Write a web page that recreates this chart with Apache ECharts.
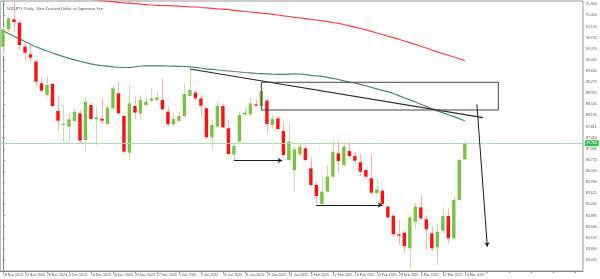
<!DOCTYPE html>
<html><head><meta charset="utf-8">
<style>html,body{margin:0;padding:0;background:#fff}#c{width:600px;height:279px}</style>
<script src="https://cdn.jsdelivr.net/npm/echarts@6/dist/echarts.min.js"></script>
</head><body><div id="c"></div>
<script>
const dates = ['18 Nov 2024','19 Nov 2024','20 Nov 2024','21 Nov 2024','22 Nov 2024','25 Nov 2024','26 Nov 2024','27 Nov 2024','28 Nov 2024','29 Nov 2024',
'2 Dec 2024','3 Dec 2024','4 Dec 2024','5 Dec 2024','6 Dec 2024','9 Dec 2024','10 Dec 2024','11 Dec 2024','12 Dec 2024','13 Dec 2024',
'16 Dec 2024','17 Dec 2024','18 Dec 2024','19 Dec 2024','20 Dec 2024','23 Dec 2024','24 Dec 2024','26 Dec 2024','27 Dec 2024','30 Dec 2024',
'31 Dec 2024','2 Jan 2025','3 Jan 2025','6 Jan 2025','7 Jan 2025','8 Jan 2025','9 Jan 2025','10 Jan 2025','13 Jan 2025','14 Jan 2025',
'15 Jan 2025','16 Jan 2025','17 Jan 2025','20 Jan 2025','21 Jan 2025','22 Jan 2025','23 Jan 2025','24 Jan 2025','27 Jan 2025','28 Jan 2025',
'29 Jan 2025','30 Jan 2025','31 Jan 2025','3 Feb 2025','4 Feb 2025','5 Feb 2025','6 Feb 2025','7 Feb 2025','10 Feb 2025','11 Feb 2025',
'12 Feb 2025','13 Feb 2025','14 Feb 2025','17 Feb 2025','18 Feb 2025','19 Feb 2025','20 Feb 2025','21 Feb 2025','24 Feb 2025','25 Feb 2025',
'26 Feb 2025','27 Feb 2025','28 Feb 2025','3 Mar 2025','4 Mar 2025','5 Mar 2025','6 Mar 2025','7 Mar 2025','10 Mar 2025','11 Mar 2025',
'12 Mar 2025','13 Mar 2025','14 Mar 2025','17 Mar 2025','18 Mar 2025'];
const emptySlots = ['','','','','','','','','','','','','','','','','','','','',''];

const opens = [
90.439,91.008,91.336,91.227,90.439,90.188,89.947,89.236,88.853,89.214,
88.328,87.868,87.813,87.999,88.251,87.376,88.525,88.054,88.076,87.901,
88.415,88.908,88.164,86.960,88.492,88.251,88.525,88.667,88.689,88.689,
88.306,87.890,87.999,88.164,88.820,88.929,88.743,88.415,87.463,87.813,
88.492,87.759,86.905,87.321,88.218,88.218,88.546,88.492,88.667,87.868,
88.087,87.671,86.719,86.391,86.905,87.102,86.446,85.899,85.275,85.680,
86.172,86.938,86.555,87.015,86.851,86.643,86.391,86.118,85.625,85.713,
85.188,84.892,84.280,84.334,83.820,84.695,85.166,84.772,84.312,83.853,
84.400,84.881,84.148,85.406,86.741];
const closes = [
91.008,91.369,91.249,90.494,90.242,90.078,89.291,88.995,89.181,88.492,
88.010,87.912,88.054,88.306,87.354,88.634,88.065,88.120,88.010,88.437,
89.072,88.251,86.993,88.579,88.273,88.689,88.634,88.743,88.776,88.382,
87.890,88.065,88.164,88.886,89.017,88.743,88.503,87.463,87.868,88.492,
87.792,86.916,87.179,88.196,88.273,88.579,88.503,88.984,87.901,88.065,
87.737,86.883,87.321,87.069,87.157,86.719,85.899,85.538,85.680,86.172,
86.993,86.687,87.157,86.851,86.697,86.336,86.172,85.647,85.757,85.275,
84.838,84.280,84.236,83.897,84.838,85.188,84.805,84.444,83.820,84.367,
84.881,84.148,85.406,86.719,87.266];
const highs = [
91.096,91.479,91.990,91.271,90.571,90.494,90.002,89.455,89.476,89.258,
88.798,88.525,88.251,88.415,88.361,88.798,88.601,88.492,88.711,88.492,
89.181,89.291,88.196,89.181,88.798,88.853,88.798,89.072,88.962,89.400,
88.470,88.273,88.306,89.236,89.706,89.017,88.886,88.470,88.032,88.634,
88.557,88.054,87.266,88.306,88.415,88.765,88.711,89.269,88.743,88.196,
88.142,87.978,87.945,87.157,87.321,87.212,86.829,86.008,86.172,86.555,
87.376,87.376,87.288,87.321,86.993,86.916,86.446,86.916,86.063,85.789,
85.242,84.914,84.750,84.422,84.914,85.319,85.571,84.914,84.531,84.641,
85.166,85.155,85.516,86.774,87.376];
const lows = [
90.133,90.932,90.932,90.330,89.980,89.947,89.148,88.929,88.798,88.448,
87.649,87.321,87.321,87.945,87.266,86.993,88.032,87.212,87.901,87.857,
88.361,88.196,86.938,86.719,88.054,88.032,88.470,88.634,88.656,88.339,
87.835,87.835,87.967,88.120,88.798,88.689,88.142,87.431,87.048,87.792,
87.759,86.905,86.710,87.288,88.142,88.142,88.470,88.470,87.595,87.759,
87.704,86.829,86.665,85.680,86.851,86.665,85.844,85.300,85.242,85.647,
86.118,86.282,86.522,86.774,86.610,86.194,86.118,85.571,85.592,85.188,
84.783,84.225,83.929,83.656,83.164,84.422,84.750,83.765,83.743,83.273,
84.312,83.984,84.115,85.374,86.719];

const maSlow = [
null,null,null,null,null,null,null,null,null,null,
null,null,null,null,null,null,91.990,91.970,91.950,91.930,
91.915,91.896,91.879,91.866,91.850,91.833,91.820,91.807,91.797,91.790,
91.784,91.777,91.767,91.758,91.748,91.741,91.725,91.712,91.699,91.682,
91.669,91.653,91.633,91.613,91.594,91.577,91.558,91.538,91.521,91.502,
91.479,91.452,91.430,91.403,91.380,91.357,91.334,91.315,91.288,91.262,
91.232,91.206,91.167,91.124,91.081,91.035,90.993,90.940,90.888,90.839,
90.786,90.734,90.681,90.625,90.573,90.514,90.454,90.395,90.330,90.267,
90.208,90.156,90.100,90.041,89.979];
const maFast = [
90.960,90.871,90.783,90.694,90.606,90.517,90.438,90.366,90.297,90.231,
90.172,90.113,90.057,90.008,89.959,89.913,89.877,89.844,89.818,89.798,
89.778,89.765,89.755,89.755,89.778,89.805,89.811,89.811,89.811,89.808,
89.805,89.801,89.795,89.788,89.778,89.762,89.739,89.713,89.693,89.673,
89.657,89.641,89.624,89.608,89.591,89.578,89.565,89.555,89.545,89.535,
89.529,89.529,89.539,89.545,89.542,89.522,89.499,89.480,89.463,89.434,
89.398,89.362,89.319,89.280,89.247,89.201,89.155,89.105,89.056,89.007,
88.964,88.902,88.833,88.764,88.692,88.623,88.547,88.475,88.403,88.331,
88.268,88.206,88.144,88.078,88.009];

const yTicks = [91.830,91.465,91.100,90.735,90.370,90.005,89.640,89.275,88.910,88.545,88.180,87.815,87.450,87.085,86.720,86.355,85.990,85.625,85.260,84.895,84.530,84.165,83.800,83.435];
const lastPrice = 87.266;

// chart drawings (bar index, price)
const trendLine = [[34, 89.706], [87.3, 88.108]];
const boxLeft = 47, boxRight = 90.1, boxTop = 89.270, boxBottom = 88.360;
const arrow1 = [[42, 86.703], [50.8, 86.703]];
const arrow2 = [[57, 85.242], [69, 85.242]];
const arrow3 = [[86.2, 88.547], [88.1, 83.873]];

const categories = dates.concat(emptySlots);
const candleData = opens.map((o, i) => [i, o, closes[i], lows[i], highs[i]]);
const boxData = [[boxLeft, boxTop], [boxRight, boxTop], [boxRight, boxBottom], [boxLeft, boxBottom], [boxLeft, boxTop]];

const UP = '#7cc242', DOWN = '#ff1010', UPWICK = '#bfe3a6', DOWNWICK = '#ffb0b0';

const chart = echarts.init(document.getElementById('c'), null, {renderer: 'canvas'});
chart.setOption({
  animation: false,
  backgroundColor: '#ffffff',
  title: {
    text: 'NZDJPY, Daily:  New Zealand Dollar vs Japanese Yen',
    left: 2, top: 2,
    textStyle: {fontSize: 4, fontWeight: 'normal', color: '#555', fontFamily: 'Arial'}
  },
  grid: {left: -1, top: 1, width: 584, height: 270, show: true, borderColor: '#999', borderWidth: 1},
  xAxis: [{
    type: 'category', data: categories, boundaryGap: true,
    axisLine: {show: true, lineStyle: {color: '#888', width: 1}},
    axisTick: {show: true, interval: 3, alignWithLabel: true, length: 2, lineStyle: {color: '#888'}},
    axisLabel: {interval: 3, fontSize: 3.5, color: '#555', align: 'left', margin: 2, fontFamily: 'Arial'},
    splitLine: {show: false}
  }, {
    type: 'value', min: -0.5, max: 105.5, show: false
  }],
  yAxis: {
    type: 'value', position: 'right', min: 83.076, max: 91.938,
    axisLine: {show: true, lineStyle: {color: '#888', width: 1}},
    axisTick: {show: true, length: 2, customValues: yTicks, lineStyle: {color: '#888'}},
    axisLabel: {customValues: yTicks, fontSize: 3.5, color: '#555', margin: 3, fontFamily: 'Arial',
      formatter: v => v.toFixed(3)},
    splitLine: {show: false}
  },
  graphic: [{type: 'line', shape: {x1: 0.5, y1: 1, x2: 0.5, y2: 271}, style: {stroke: '#bbb', lineWidth: 1}, silent: true}],
  series: [
    {
      type: 'line', name: 'MA slow', data: maSlow, xAxisIndex: 0, symbol: 'none', silent: true,
      lineStyle: {color: '#ff3b3b', width: 1.2}, z: 2
    },
    {
      type: 'line', name: 'MA fast', data: maFast, xAxisIndex: 0, symbol: 'none', silent: true,
      lineStyle: {color: '#3f8a80', width: 1.2}, z: 2
    },
    {
      type: 'custom', name: 'NZDJPY', data: candleData, xAxisIndex: 0, clip: true, z: 3,
      encode: {x: 0, y: [1, 2, 3, 4]},
      renderItem: function (params, api) {
        const idx = api.value(0), o = api.value(1), c = api.value(2), l = api.value(3), h = api.value(4);
        const pO = api.coord([idx, o]), pC = api.coord([idx, c]);
        const pL = api.coord([idx, l]), pH = api.coord([idx, h]);
        const w = api.size([1, 0])[0] * 0.62;
        const up = c >= o;
        const wx = Math.round(pH[0]) + 0.5;
        const top = Math.min(pO[1], pC[1]);
        const hgt = Math.max(1, Math.abs(pO[1] - pC[1]));
        return {
          type: 'group',
          children: [
            {type: 'line', shape: {x1: wx, y1: pH[1], x2: wx, y2: pL[1]}, style: {stroke: up ? UPWICK : DOWNWICK, lineWidth: 1}},
            {type: 'rect', shape: {x: pO[0] - w / 2, y: top, width: w, height: hgt}, style: {fill: up ? UP : DOWN}}
          ]
        };
      }
    },
    {
      type: 'line', name: 'trend', data: trendLine, xAxisIndex: 1, symbol: 'none', silent: true, z: 4,
      lineStyle: {color: '#2b2b2b', width: 1.2},
      markLine: {
        silent: true, symbol: ['none', 'none'], animation: false,
        data: [{yAxis: lastPrice}],
        lineStyle: {color: '#a8dcb2', width: 1, type: 'solid'},
        label: {show: true, position: 'end', distance: 2, formatter: lastPrice.toFixed(3),
          fontSize: 3.5, color: '#fff', backgroundColor: '#2fc24a', padding: [1, 1.5], fontFamily: 'Arial'}
      }
    },
    {
      type: 'line', name: 'box', data: boxData, xAxisIndex: 1, symbol: 'none', silent: true, z: 4,
      lineStyle: {color: '#444', width: 1},
      markLine: {
        silent: true, symbol: ['none', 'arrow'], symbolSize: [4, 4.5], animation: false,
        lineStyle: {color: '#1a1a1a', width: 1, type: 'solid'},
        label: {show: false},
        data: [
          [{coord: arrow1[0]}, {coord: arrow1[1]}],
          [{coord: arrow2[0]}, {coord: arrow2[1]}],
          [{coord: arrow3[0]}, {coord: arrow3[1]}]
        ]
      }
    }
  ]
});
</script></body></html>
